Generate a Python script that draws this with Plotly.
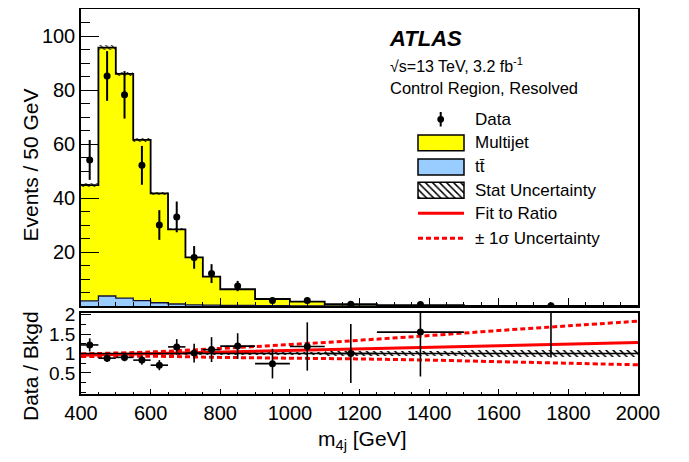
import plotly.graph_objects as go

# ---------------- data ----------------
bin_lo = [400, 450, 500, 550, 600, 650, 700, 750, 800, 900, 1000, 1100, 1250, 1500]
bin_hi = [450, 500, 550, 600, 650, 700, 750, 800, 900, 1000, 1100, 1250, 1500, 2000]
multijet = [42.9, 92.0, 83.1, 59.5, 40.5, 27.65, 17.55, 10.6, 6.0, 2.5, 1.57, 0.65, 0.33, 0.02]
ttbar = [1.9, 3.7, 2.9, 2.0, 1.2, 0.75, 0.45, 0.3, 0.2, 0.1, 0.08, 0.05, 0.03, 0.01]
stat_unc = [0.6, 0.8, 0.7, 0.6, 0.5, 0.4, 0.3, 0.25, 0.15, 0.1, 0.08, 0.05, 0.03, 0.01]
data = [54.1, 85.2, 78.2, 52.1, 30.0, 33.0, 18.0, 12.0, 7.4, 2.0, 2.0, 0.67, 0.6, 0.1]
data_err = [7.4, 9.2, 8.8, 7.2, 5.5, 5.7, 4.2, 3.5, 1.9, 1.0, 1.0, 0.47, 0.35, 0.1]

ratio = [1.22, 0.88, 0.90, 0.83, 0.70, 1.17, 1.01, 1.10, 1.19, 0.74, 1.18, 1.00, 1.55, 3.5]
ratio_err = [0.17, 0.10, 0.10, 0.12, 0.13, 0.20, 0.24, 0.32, 0.33, 0.38, 0.62, 0.76, 1.14, 2.6]
ratio_stat = [0.02, 0.02, 0.02, 0.02, 0.02, 0.03, 0.03, 0.03, 0.03, 0.04, 0.05, 0.06, 0.07, 0.08]

fit_x = [400, 2000]
fit_y = [0.955, 1.28]
band_x = [400, 600, 800, 1000, 1200, 1400, 1600, 1800, 2000]
band_up = [0.99, 1.04, 1.13, 1.23, 1.34, 1.46, 1.59, 1.71, 1.83]
band_dn = [0.92, 0.93, 0.90, 0.88, 0.86, 0.83, 0.79, 0.75, 0.71]

x_ticks = [400, 600, 800, 1000, 1200, 1400, 1600, 1800, 2000]
y_ticks = [20, 40, 60, 80, 100]
ratio_ticks = [0.5, 1, 1.5, 2]

# ---------------- derived ----------------
centers = [(a + b) / 2 for a, b in zip(bin_lo, bin_hi)]
widths = [b - a for a, b in zip(bin_lo, bin_hi)]
halfw = [w / 2 for w in widths]
total = [m + t for m, t in zip(multijet, ttbar)]
step_x = bin_lo + [bin_hi[-1]]

# ---------------- geometry (page pixels; page has 8px body margin) ----------------
OFF = 8
W, H = 689 - OFF, 462 - OFF
X0, X1 = 81, 638      # plot area left/right in page pixels
Y0, Y1 = 9, 394       # plot area top/bottom in page pixels
L, R, T, B = X0 - OFF, (W + OFF) - X1, Y0 - OFF, (H + OFF) - Y1
PW = X1 - X0
PH = Y1 - Y0
def px(x):
    return (x - X0) / PW
def py(y):
    return (Y1 - y) / PH

FONT = "Liberation Sans, Arial, Helvetica, sans-serif"
YELLOW = "#ffff00"
BLUE = "#99ccff"
RED = "#ff0000"

fig = go.Figure()

# ---- upper panel ----
fig.add_trace(go.Bar(x=centers, y=ttbar, base=[0] * len(ttbar), width=widths,
                     marker=dict(color=BLUE, line=dict(width=0)),
                     xaxis="x", yaxis="y", showlegend=False))
fig.add_trace(go.Bar(x=centers, y=multijet, base=ttbar, width=widths,
                     marker=dict(color=YELLOW, line=dict(width=0)),
                     xaxis="x", yaxis="y", showlegend=False))
fig.add_trace(go.Bar(x=centers, y=[2 * e for e in stat_unc],
                     base=[t - e for t, e in zip(total, stat_unc)], width=widths,
                     marker=dict(color="rgba(0,0,0,0)", line=dict(width=0),
                                 pattern=dict(shape="\\", fgcolor="black",
                                              bgcolor="rgba(0,0,0,0)", size=4,
                                              solidity=0.25, fillmode="replace")),
                     xaxis="x", yaxis="y", showlegend=False))
fig.add_trace(go.Scatter(x=step_x, y=ttbar + [ttbar[-1]], mode="lines",
                         line=dict(shape="hv", color="#10103a", width=1.3),
                         xaxis="x", yaxis="y", showlegend=False))
fig.add_trace(go.Scatter(x=step_x, y=total + [total[-1]], mode="lines",
                         line=dict(shape="hv", color="black", width=1.8),
                         xaxis="x", yaxis="y", showlegend=False))
fig.add_trace(go.Scatter(x=centers, y=data, mode="markers",
                         marker=dict(color="black", size=7),
                         error_y=dict(type="data", array=data_err, color="black",
                                      thickness=2, width=0),
                         xaxis="x", yaxis="y", showlegend=False))

# ---- ratio panel ----
fig.add_trace(go.Bar(x=centers, y=[2 * e for e in ratio_stat],
                     base=[1 - e for e in ratio_stat], width=widths,
                     marker=dict(color="rgba(0,0,0,0)", line=dict(width=0),
                                 pattern=dict(shape="\\", fgcolor="black",
                                              bgcolor="rgba(0,0,0,0)", size=5,
                                              solidity=0.3, fillmode="replace")),
                     xaxis="x2", yaxis="y2", showlegend=False))
fig.add_trace(go.Scatter(x=band_x, y=band_up, mode="lines",
                         line=dict(color=RED, width=3, dash="5px,3px", shape="spline"),
                         xaxis="x2", yaxis="y2", showlegend=False))
fig.add_trace(go.Scatter(x=band_x, y=band_dn, mode="lines",
                         line=dict(color=RED, width=3, dash="5px,3px", shape="spline"),
                         xaxis="x2", yaxis="y2", showlegend=False))
fig.add_trace(go.Scatter(x=fit_x, y=fit_y, mode="lines",
                         line=dict(color=RED, width=3),
                         xaxis="x2", yaxis="y2", showlegend=False))
fig.add_trace(go.Scatter(x=centers, y=ratio, mode="markers",
                         marker=dict(color="black", size=7),
                         error_y=dict(type="data", array=ratio_err, color="black",
                                      thickness=1.6, width=0),
                         error_x=dict(type="data", array=halfw, color="black",
                                      thickness=1.6, width=0),
                         xaxis="x2", yaxis="y2", showlegend=False))

# ---- legend hatch glyph (own tiny axis) ----
fig.add_trace(go.Bar(x=[0.5], y=[1], width=[1],
                     marker=dict(color="rgba(0,0,0,0)", line=dict(width=0),
                                 pattern=dict(shape="\\", fgcolor="black",
                                              bgcolor="rgba(0,0,0,0)", size=5,
                                              solidity=0.3, fillmode="replace")),
                     xaxis="x3", yaxis="y3", showlegend=False, hoverinfo="skip"))

axis_common = dict(showline=True, mirror=True, linecolor="black", linewidth=1.5,
                   showgrid=False, zeroline=False, ticks="inside", tickcolor="black",
                   automargin=False,
                   tickfont=dict(family=FONT, size=20, color="black"))

fig.update_layout(
    width=W, height=H,
    margin=dict(l=L, r=R, t=T, b=B, pad=0, autoexpand=False),
    paper_bgcolor="white", plot_bgcolor="white",
    barmode="overlay", bargap=0,
    showlegend=False,
    font=dict(family=FONT, color="black"),
    xaxis=dict(domain=[0, 1], range=[400, 2000], anchor="y", matches="x2",
               showticklabels=False, tickvals=x_ticks, ticklen=8, tickwidth=1,
               minor=dict(ticks="inside", dtick=50, ticklen=4, tickcolor="black"),
               **axis_common),
    yaxis=dict(domain=[py(306), 1], range=[0, 110], anchor="x",
               tickvals=y_ticks, ticklen=18, tickwidth=1,
               minor=dict(ticks="inside", dtick=5, ticklen=9, tickcolor="black"),
               **axis_common),
    xaxis2=dict(domain=[0, 1], range=[400, 2000], anchor="y2",
                tickvals=x_ticks, ticklen=5, tickwidth=1,
                minor=dict(ticks="inside", dtick=50, ticklen=2.5, tickcolor="black"),
                **axis_common),
    yaxis2=dict(domain=[0, py(313)], range=[-0.04, 2.04], anchor="x2",
                tickvals=ratio_ticks, ticktext=["0.5", "1", "1.5", "2"],
                ticklen=10, tickwidth=1,
                minor=dict(ticks="inside", dtick=0.25, ticklen=5, tickcolor="black"),
                **axis_common),
    xaxis3=dict(domain=[px(418), px(464)], range=[0, 1], anchor="y3", visible=False,
                fixedrange=True),
    yaxis3=dict(domain=[py(198.3), py(182.3)], range=[0, 1], anchor="x3", visible=False,
                fixedrange=True),
)
fig.update_yaxes(tickfont=dict(family=FONT, size=19, color="black"), selector=dict(anchor="x2"))

shapes = []
# line at ratio 1
shapes.append(dict(type="line", xref="x2 domain", yref="y2", x0=0, x1=1, y0=1, y1=1,
                   line=dict(color="black", width=1.5)))
# legend glyphs
shapes.append(dict(type="line", xref="paper", yref="paper",
                   x0=px(440.7), x1=px(440.7), y0=py(112), y1=py(126.5),
                   line=dict(color="black", width=2)))
shapes.append(dict(type="circle", xref="paper", yref="paper",
                   x0=px(437.3), x1=px(444.1), y0=py(122.7), y1=py(115.9),
                   fillcolor="black", line=dict(color="black", width=0)))
shapes.append(dict(type="rect", xref="paper", yref="paper",
                   x0=px(418), x1=px(464), y0=py(150.7), y1=py(135),
                   fillcolor=YELLOW, line=dict(color="black", width=1.5)))
shapes.append(dict(type="rect", xref="paper", yref="paper",
                   x0=px(418), x1=px(464), y0=py(175), y1=py(159),
                   fillcolor=BLUE, line=dict(color="black", width=1.5)))
shapes.append(dict(type="rect", xref="paper", yref="paper",
                   x0=px(418), x1=px(464), y0=py(198.3), y1=py(182.3),
                   fillcolor="rgba(0,0,0,0)", line=dict(color="black", width=1.5)))
shapes.append(dict(type="line", xref="paper", yref="paper",
                   x0=px(418), x1=px(464), y0=py(213.3), y1=py(213.3),
                   line=dict(color=RED, width=3)))
shapes.append(dict(type="line", xref="paper", yref="paper",
                   x0=px(418), x1=px(464), y0=py(238.3), y1=py(238.3),
                   line=dict(color=RED, width=3, dash="5px,3px")))
fig.update_layout(shapes=shapes)

ann = []
def text(x, y, s, size=17, xanchor="left", angle=0):
    ann.append(dict(x=px(x), y=py(y), xref="paper", yref="paper", text=s,
                    showarrow=False, xanchor=xanchor, yanchor="middle",
                    textangle=angle, font=dict(family=FONT, size=size, color="black")))

text(387, 38, "<b><i>ATLAS</i></b>", size=22)
text(388, 65, "\u221As=13 TeV, 3.2 fb<sup>-1</sup>", size=16)
text(388, 88, "Control Region, Resolved", size=16.5)
text(473, 119.3, "Data")
text(473, 142.7, "Multijet")
text(473, 166.7, "tt\u0304")
text(473, 190.3, "Stat Uncertainty")
text(473, 213.3, "Fit to Ratio")
text(473, 238.3, "\u00B1 1\u03C3 Uncertainty")
text(30, 165.5, "Events / 50 GeV", size=21, xanchor="center", angle=-90)
text(30, 366, "Data / Bkgd", size=21, xanchor="center", angle=-90)
text(362, 440, "m<sub>4j</sub> [GeV]", size=21, xanchor="center")
fig.update_layout(annotations=ann)

fig.write_html("out.html")
